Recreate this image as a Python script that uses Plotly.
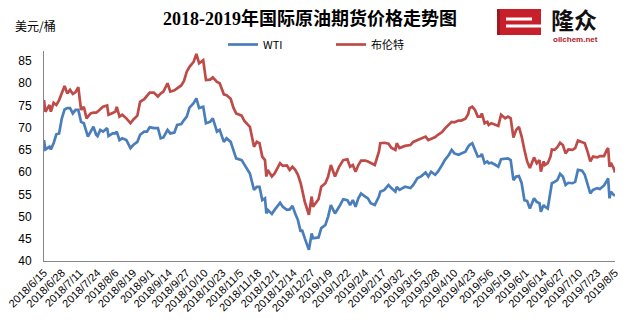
import plotly.graph_objects as go

# Daily settlement prices (USD/bbl), 2018-06-15 .. 2019-08-05
dates = [
    "2018-06-15", "2018-06-16", "2018-06-19", "2018-06-20", "2018-06-22", "2018-06-24",
    "2018-06-26", "2018-06-28", "2018-06-30", "2018-07-02", "2018-07-04", "2018-07-06",
    "2018-07-08", "2018-07-10", "2018-07-12", "2018-07-14", "2018-07-16", "2018-07-17",
    "2018-07-19", "2018-07-21", "2018-07-23", "2018-07-24", "2018-07-26", "2018-07-28",
    "2018-07-31", "2018-08-01", "2018-08-04", "2018-08-06", "2018-08-07", "2018-08-09",
    "2018-08-11", "2018-08-14", "2018-08-17", "2018-08-19", "2018-08-22", "2018-08-24",
    "2018-08-27", "2018-08-29", "2018-08-31", "2018-09-03", "2018-09-06", "2018-09-08",
    "2018-09-10", "2018-09-13", "2018-09-15", "2018-09-18", "2018-09-20", "2018-09-23",
    "2018-09-25", "2018-09-27",
    "2018-09-29", "2018-10-02", "2018-10-04", "2018-10-06", "2018-10-09", "2018-10-11",
    "2018-10-14", "2018-10-16", "2018-10-19", "2018-10-21", "2018-10-24", "2018-10-26",
    "2018-10-29", "2018-10-31", "2018-11-02", "2018-11-06", "2018-11-08", "2018-11-11",
    "2018-11-12", "2018-11-15", "2018-11-17", "2018-11-19", "2018-11-21", "2018-11-23",
    "2018-11-24", "2018-11-25", "2018-11-28", "2018-11-30", "2018-12-04", "2018-12-06",
    "2018-12-09", "2018-12-11", "2018-12-13", "2018-12-15", "2018-12-17", "2018-12-19",
    "2018-12-20", "2018-12-22", "2018-12-25", "2018-12-27", "2018-12-28", "2019-01-01",
    "2019-01-03", "2019-01-06",
    "2019-01-08", "2019-01-10", "2019-01-13", "2019-01-16", "2019-01-19", "2019-01-22",
    "2019-01-24", "2019-01-26", "2019-01-28", "2019-01-30", "2019-02-01", "2019-02-04",
    "2019-02-06", "2019-02-08", "2019-02-11", "2019-02-14", "2019-02-15", "2019-02-18",
    "2019-02-21", "2019-02-23", "2019-02-26", "2019-02-27", "2019-03-01", "2019-03-05",
    "2019-03-09", "2019-03-11", "2019-03-14", "2019-03-17", "2019-03-20", "2019-03-22",
    "2019-03-24", "2019-03-27", "2019-03-29", "2019-04-01", "2019-04-03", "2019-04-06",
    "2019-04-08", "2019-04-10", "2019-04-13", "2019-04-15", "2019-04-18", "2019-04-20",
    "2019-04-21",
    "2019-04-23", "2019-04-25", "2019-04-27", "2019-04-29", "2019-04-30", "2019-05-02",
    "2019-05-04", "2019-05-05", "2019-05-07", "2019-05-10", "2019-05-12", "2019-05-14",
    "2019-05-17", "2019-05-19", "2019-05-21", "2019-05-23", "2019-05-25", "2019-05-27",
    "2019-05-29", "2019-05-31", "2019-06-02", "2019-06-04", "2019-06-07", "2019-06-09",
    "2019-06-11", "2019-06-12", "2019-06-14", "2019-06-15", "2019-06-17", "2019-06-19",
    "2019-06-20", "2019-06-22", "2019-06-24", "2019-06-26", "2019-06-28", "2019-06-30",
    "2019-07-02", "2019-07-05", "2019-07-07", "2019-07-09", "2019-07-12", "2019-07-14",
    "2019-07-16", "2019-07-18", "2019-07-20", "2019-07-23", "2019-07-25", "2019-07-28",
    "2019-07-30", "2019-07-31", "2019-08-01", "2019-08-02", "2019-08-04", "2019-08-05",
]

wti = [
    67.2, 65.1, 65.7, 65.1, 66.5, 68.5, 68.7, 72.1, 74.1, 74.4, 74.4, 73.2,
    74.0, 74.0, 71.3, 71.0, 69.0, 68.0, 69.1, 70.2, 68.4, 68.1, 69.5, 69.1,
    69.9, 68.1, 68.7, 68.7, 69.1, 67.2, 67.6, 67.2, 65.4, 66.1, 66.8, 68.4,
    69.1, 69.1, 70.1, 69.9, 69.9, 67.6, 67.8, 69.5, 68.7, 68.9, 70.6, 70.8,
    71.7, 72.5,
    74.5, 75.5, 76.6, 74.4, 74.7, 71.0, 71.3, 72.1, 69.1, 69.5, 66.8, 67.6,
    66.8, 65.0, 63.1, 62.7, 61.6, 60.1, 59.7, 56.0, 56.7, 56.7, 53.7, 54.1,
    50.7, 51.5, 50.6, 51.5, 53.1, 52.2, 51.5, 51.6, 52.4, 50.7, 49.2, 46.6,
    47.0, 45.1, 42.5, 46.2, 45.1, 45.3, 47.4, 48.1,
    50.0, 52.6, 50.7, 52.2, 53.9, 53.7, 52.6, 53.7, 52.2, 54.1, 55.2, 54.5,
    54.1, 53.0, 52.6, 54.5, 55.6, 56.0, 57.1, 56.4, 55.6, 56.7, 56.0, 56.7,
    56.4, 57.1, 58.6, 59.1, 59.9, 59.0, 60.1, 59.4, 60.1, 61.6, 62.7, 63.9,
    65.0, 64.2, 63.9, 64.2, 64.6, 65.7, 66.1,
    66.5, 65.0, 63.5, 63.6, 64.1, 62.0, 62.4, 62.0, 62.1, 61.6, 61.2, 62.9,
    63.1, 63.1, 62.7, 58.2, 59.0, 59.1, 57.5, 53.7, 53.5, 51.8, 54.1, 53.3,
    53.0, 51.1, 52.6, 52.2, 51.8, 55.5, 57.5, 57.8, 58.2, 59.6, 59.0, 57.1,
    57.6, 57.5, 57.8, 60.5, 60.3, 59.4, 57.5, 55.2, 56.0, 56.4, 56.2, 57.0,
    58.0, 58.6, 54.1, 55.6, 54.9, 54.7,
]

brent = [
    76.2, 73.6, 75.1, 73.6, 75.6, 75.1, 76.2, 78.0, 79.4, 77.7, 78.5, 77.6,
    78.0, 79.1, 74.0, 74.7, 72.1, 72.5, 73.2, 73.4, 73.4, 73.6, 74.2, 74.7,
    75.0, 72.9, 73.3, 73.6, 74.7, 72.5, 72.9, 72.1, 71.0, 71.8, 72.7, 75.8,
    76.4, 77.2, 77.9, 77.9, 77.0, 77.7, 78.1, 80.0, 78.1, 78.4, 78.8, 79.5,
    80.5, 82.6,
    83.7, 84.8, 86.6, 84.5, 85.2, 80.7, 80.8, 81.3, 80.3, 80.0, 77.5, 77.3,
    76.5, 74.5, 73.2, 72.7, 71.5, 70.4, 70.2, 65.7, 66.8, 66.5, 63.5, 62.7,
    59.0, 60.5, 59.0, 59.7, 62.0, 61.4, 61.5, 60.5, 61.2, 60.5, 59.4, 57.5,
    56.3, 53.3, 50.4, 54.5, 52.2, 53.9, 56.7, 57.5,
    59.0, 61.6, 59.0, 61.2, 62.7, 62.9, 61.2, 61.6, 60.1, 61.6, 62.6, 62.6,
    62.4, 62.0, 61.6, 64.6, 66.5, 66.6, 66.4, 65.5, 65.0, 66.5, 65.4, 65.9,
    66.1, 66.8, 67.2, 67.5, 68.0, 67.2, 67.5, 67.9, 68.4, 69.0, 69.8, 70.8,
    71.3, 71.2, 71.6, 71.6, 72.0, 73.0, 74.4,
    74.7, 74.0, 72.5, 72.5, 73.2, 71.0, 71.3, 70.6, 71.0, 70.6, 70.4, 72.9,
    72.1, 72.5, 72.1, 67.8, 69.5, 70.2, 68.0, 65.0, 62.4, 60.9, 63.3, 62.0,
    62.7, 60.1, 62.4, 61.6, 62.0, 63.5, 65.1, 65.0, 65.6, 66.6, 66.1, 64.2,
    65.1, 65.0, 65.4, 67.1, 66.8, 66.5, 64.6, 62.4, 63.5, 63.3, 63.6, 63.6,
    65.0, 65.4, 61.2, 62.1, 60.9, 59.9,
]

# Axis labels every 13 days
tick_dates = [
    "2018-06-15", "2018-06-28", "2018-07-11", "2018-07-24", "2018-08-06", "2018-08-19",
    "2018-09-01", "2018-09-14", "2018-09-27", "2018-10-10", "2018-10-23", "2018-11-05",
    "2018-11-18", "2018-12-01", "2018-12-14", "2018-12-27", "2019-01-09", "2019-01-22",
    "2019-02-04", "2019-02-17", "2019-03-02", "2019-03-15", "2019-03-28", "2019-04-10",
    "2019-04-23", "2019-05-06", "2019-05-19", "2019-06-01", "2019-06-14", "2019-06-27",
    "2019-07-10", "2019-07-23", "2019-08-05",
]
tick_labels = [
    "2018/6/15", "2018/6/28", "2018/7/11", "2018/7/24", "2018/8/6", "2018/8/19",
    "2018/9/1", "2018/9/14", "2018/9/27", "2018/10/10", "2018/10/23", "2018/11/5",
    "2018/11/18", "2018/12/1", "2018/12/14", "2018/12/27", "2019/1/9", "2019/1/22",
    "2019/2/4", "2019/2/17", "2019/3/2", "2019/3/15", "2019/3/28", "2019/4/10",
    "2019/4/23", "2019/5/6", "2019/5/19", "2019/6/1", "2019/6/14", "2019/6/27",
    "2019/7/10", "2019/7/23", "2019/8/5",
]
y_ticks = [40, 45, 50, 55, 60, 65, 70, 75, 80, 85]

W, H = 629, 335
ML, MR, MT, MB = 44, 14, 51, 74
PW, PH = W - ML - MR, H - MT - MB


def px(x):
    return (x - ML) / PW


def py(y):
    return (H - MB - y) / PH


SANS = "Liberation Sans, Noto Sans CJK SC, sans-serif"
CJK = "Noto Sans CJK SC, sans-serif"

fig = go.Figure()
fig.add_trace(go.Scatter(x=dates, y=wti, name="WTI", mode="lines",
                         line=dict(color="#4A7EBB", width=2.7)))
fig.add_trace(go.Scatter(x=dates, y=brent, name="布伦特", mode="lines",
                         line=dict(color="#BE4B48", width=2.7)))

axis_color = "#868686"
fig.update_layout(
    width=W, height=H,
    margin=dict(l=ML, r=MR, t=MT, b=MB, pad=0, autoexpand=False),
    paper_bgcolor="white", plot_bgcolor="white",
    showlegend=True,
    legend=dict(orientation="h", xref="paper", yref="paper",
                x=px(223), y=py(30), xanchor="left", yanchor="top",
                font=dict(family=CJK, size=11, color="#000000"),
                bgcolor="rgba(0,0,0,0)", itemwidth=30, tracegroupgap=0,
                entrywidth=63, entrywidthmode="pixels"),
    title=dict(text="2018-2019年国际原油期货价格走势图",
               xref="container", yref="container", x=310 / W, y=1 - 19 / H,
               xanchor="center", yanchor="middle",
               font=dict(family="Liberation Serif, Noto Sans CJK SC, serif",
                         size=18, color="#000000", weight="bold")),
    xaxis=dict(type="date", range=["2018-06-15", "2019-08-05"],
               tickvals=tick_dates, ticktext=tick_labels, tickangle=-45,
               tickfont=dict(family=SANS, size=11, color="#000000"),
               showgrid=False, zeroline=False, showline=True, automargin=False,
               linecolor=axis_color, linewidth=1, ticks="", fixedrange=True),
    yaxis=dict(range=[40, 87.25], tickvals=y_ticks,
               tickfont=dict(family=SANS, size=12, color="#000000"),
               showgrid=False, zeroline=False, showline=True, automargin=False,
               linecolor=axis_color, linewidth=1, ticks="",
               ticklabelstandoff=9),
)

# Unit label above the value axis
fig.add_annotation(text="美元/桶", xref="paper", yref="paper",
                   x=px(35), y=py(25), xanchor="center", yanchor="middle",
                   showarrow=False,
                   font=dict(family=CJK, size=12, color="#000000"))

# Brand mark in the top-right corner
shapes = [
    dict(type="rect", x0=px(497), x1=px(541), y0=py(35), y1=py(9),
         fillcolor="#C8202A", line=dict(width=0)),
    dict(type="rect", x0=px(506), x1=px(532), y0=py(20.5), y1=py(17.5),
         fillcolor="white", line=dict(width=0)),
    dict(type="rect", x0=px(506), x1=px(541), y0=py(27.5), y1=py(24.5),
         fillcolor="white", line=dict(width=0)),
    dict(type="rect", x0=px(497), x1=px(500), y0=py(35), y1=py(9),
         fillcolor="#9E1820", line=dict(width=0)),
]
for s in shapes:
    s.update(xref="paper", yref="paper", layer="above")
    fig.add_shape(**s)

fig.add_annotation(text="<b>隆众</b>", xref="paper", yref="paper",
                   x=px(574), y=py(18.5), xanchor="center", yanchor="middle",
                   showarrow=False,
                   font=dict(family=CJK, size=23, color="#111111"))
fig.add_annotation(text="<b>oilchem.net</b>", xref="paper", yref="paper",
                   x=px(575), y=py(39), xanchor="center", yanchor="middle",
                   showarrow=False,
                   font=dict(family="Liberation Sans, sans-serif", size=8,
                             color="#B0202A"))

fig.write_html("out.html")
